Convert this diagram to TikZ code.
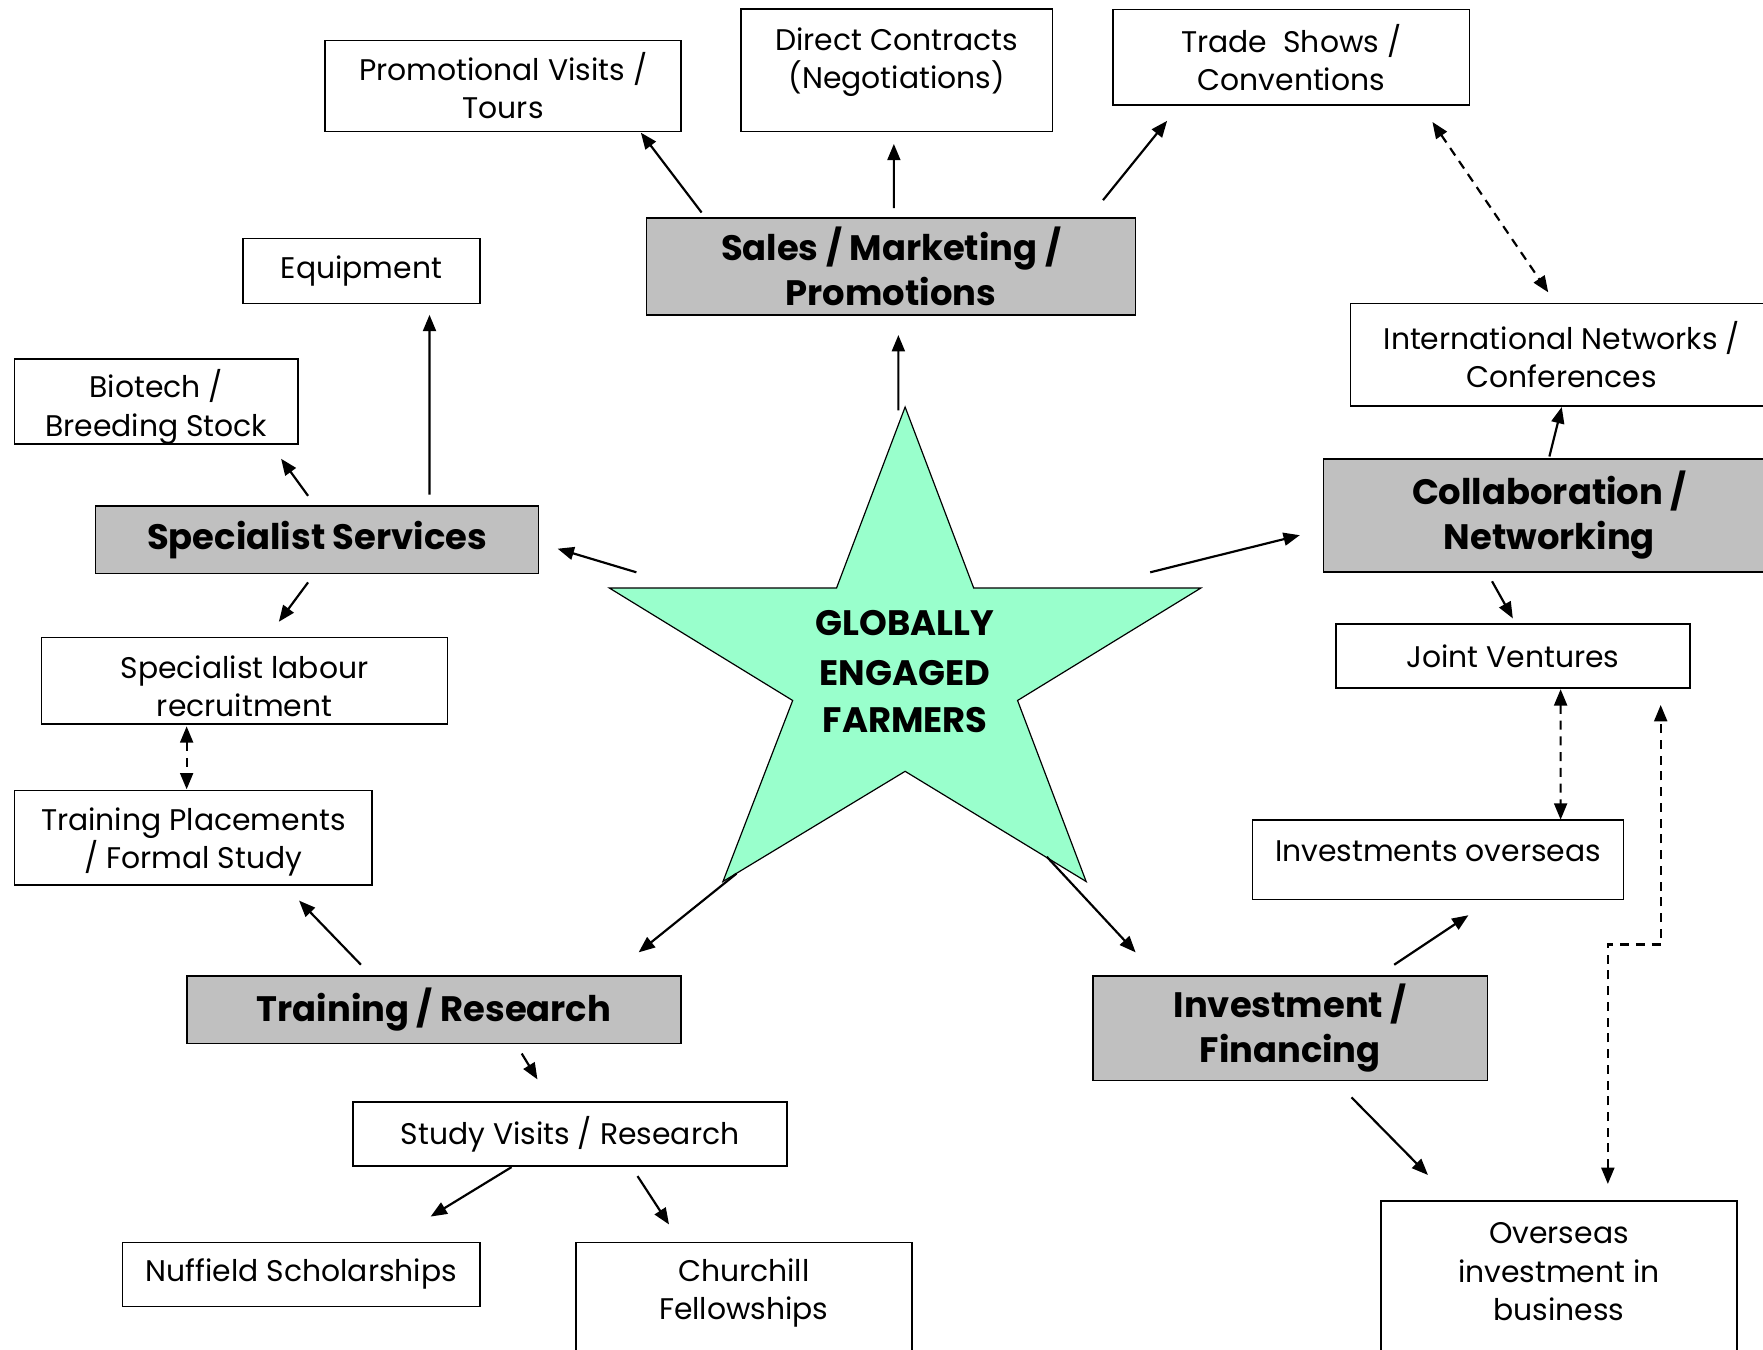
\documentclass[tikz,border=0pt]{standalone}
\usepackage{fontspec}
\setmainfont{Poppins}
\usetikzlibrary{arrows.meta}

\definecolor{headgrey}{RGB}{192,192,192}
\definecolor{starmint}{RGB}{153,255,204}

\newcommand{\boxfont}{\fontsize{15.1}{19.3}\selectfont}
\newcommand{\headfont}{\fontsize{17.9}{22.8}\selectfont\bfseries}

\tikzset{
  box/.style={draw, line width=0.85pt, fill=white, inner sep=0pt, outer sep=0pt, align=center, font=\boxfont},
  headbox/.style={box, fill=headgrey, font=\headfont},
  boxtext/.style={align=center, font=\boxfont, inner sep=0pt},
  arr/.style={line width=1.1pt, -{Triangle[length=2.9mm,width=2.3mm]}},
  dasharr/.style={line width=1.1pt, dash pattern=on 1.6mm off 1.2mm, {Triangle[length=2.9mm,width=2.3mm]}-{Triangle[length=2.9mm,width=2.3mm]}}
}

\begin{document}
\begin{tikzpicture}[x=0.02cm, y=-0.02cm]

% Fix the picture size and clip what runs over the edges
\useasboundingbox (0,0) rectangle (1568,1200);
\clip (0,0) rectangle (1568,1200);

% Define the points of the star
\coordinate (t) at (805,362);
\coordinate (ul) at (744,523);
\coordinate (l) at (542,523);
\coordinate (ll) at (705,623);
\coordinate (bl) at (643,784);
\coordinate (b) at (805,686);
\coordinate (br) at (966,784);
\coordinate (lr) at (905,623);
\coordinate (r) at (1068,523);
\coordinate (ur) at (866,523);

% Draw the star
\draw[fill=starmint, line width=0.6pt] (t) -- (ur) -- (r) -- (lr) -- (br) -- (b) -- (bl) -- (ll) -- (l) -- (ul) -- cycle;
\node[align=center, font=\headfont] (farmers) at (805,597) {GLOBALLY\\[2.5pt] ENGAGED\\[1pt] FARMERS};

% Sales / Marketing / Promotions and its boxes
\node[headbox, minimum width=8.70cm, minimum height=1.72cm] (sales) at (792.5,237) {Sales / Marketing /\\ Promotions};
\node[box, minimum width=6.34cm, minimum height=1.62cm] (promo) at (447.5,76.5) {Promotional Visits /\\ Tours};
\node[box, minimum width=5.54cm, minimum height=2.18cm] (direct) at (797.5,62.5) {};
\node[boxtext] (directtext) at (797.5,55) {Direct Contracts\\ (Negotiations)};
\node[box, minimum width=6.34cm, minimum height=1.70cm] (trade) at (1148.5,51) {Trade\ \ Shows /\\ Conventions};

% Specialist Services and its boxes
\node[headbox, minimum width=7.88cm, minimum height=1.20cm] (spec) at (282,480) {Specialist Services};
\node[box, minimum width=4.22cm, minimum height=1.16cm] (equip) at (321.5,241) {Equipment};
\node[box, minimum width=5.04cm, minimum height=1.52cm] (biotech) at (139,357) {};
\node[boxtext] (biotechtext) at (139,362) {Biotech /\\ Breeding Stock};
\node[box, minimum width=7.22cm, minimum height=1.54cm] (labour) at (217.5,605.5) {};
\node[boxtext] (labourtext) at (217.5,610) {Specialist labour\\ recruitment};
\node[box, minimum width=6.36cm, minimum height=1.68cm] (place) at (172,745) {};
\node[boxtext] (placetext) at (172,749) {Training Placements\\ / Formal Study};

% Collaboration / Networking and its boxes
\node[headbox, minimum width=8.04cm, minimum height=2.02cm] (collab) at (1378,458.5) {Collaboration /\\ Networking};
\node[box, minimum width=7.52cm, minimum height=1.82cm] (intl) at (1389,315.5) {International Networks /\\ Conferences};
\node[box, minimum width=6.30cm, minimum height=1.14cm] (joint) at (1345.5,583.5) {Joint Ventures};

% Investment / Financing and its boxes
\node[headbox, minimum width=7.02cm, minimum height=1.86cm] (invest) at (1147.5,914.5) {Investment /\\ Financing};
\node[box, minimum width=6.60cm, minimum height=1.42cm] (invo) at (1279,764.5) {};
\node[boxtext] (invotext) at (1279,757) {Investments overseas};
\node[box, minimum width=6.34cm, minimum height=3.04cm] (overseas) at (1386.5,1144) {};
\node[boxtext] (overseastext) at (1386.5,1131) {Overseas\\ investment in\\ business};

% Training / Research and its boxes
\node[headbox, minimum width=8.80cm, minimum height=1.20cm] (train) at (386,898) {Training / Research};
\node[box, minimum width=7.72cm, minimum height=1.14cm] (study) at (507,1008.5) {Study Visits / Research};
\node[box, minimum width=6.36cm, minimum height=1.14cm] (nuff) at (268,1133.5) {Nuffield Scholarships};
\node[box, minimum width=5.98cm, minimum height=2.30cm] (church) at (661.5,1162.5) {};
\node[boxtext] (churchtext) at (661.5,1150) {Churchill\\ Fellowships};

% Arrows from the star
\draw[arr] ([shift={(-6,3)}]t) -- ([shift={(6.5,18)}]sales.south);
\draw[arr] ([shift={(24,-14)}]l) -- ([shift={(17,8)}]spec.east);
\draw[arr] ([shift={(-45,-14)}]r) -- ([shift={(-21,17.5)}]collab.west);
\draw[arr] ([shift={(12,-7)}]bl) -- ([shift={(182,-21)}]train.north);
\draw[arr] ([shift={(-35,-22)}]br) -- ([shift={(-137.5,-21)}]invest.north);

% Arrows from Sales / Marketing / Promotions
\draw[arr] ([shift={(-168.5,-5)}]sales.north) -- ([shift={(122.5,1)}]promo.south);
\draw[arr] ([shift={(2.5,-9)}]sales.north) -- ([shift={(-2.5,11)}]direct.south);
\draw[arr] ([shift={(188.5,-16)}]sales.north) -- ([shift={(-110.5,14)}]trade.south);
\draw[dasharr] ([shift={(125.5,15)}]trade.south) -- ([shift={(-12,-10)}]intl.north);

% Arrows from Specialist Services
\draw[arr] ([shift={(100,-10)}]spec.north) -- ([shift={(60.5,10)}]equip.south);
\draw[arr] ([shift={(-8,-9)}]spec.north) -- ([shift={(111,13)}]biotech.south);
\draw[arr] ([shift={(-8,8)}]spec.south) -- ([shift={(30.5,-14)}]labour.north);
\draw[dasharr] ([shift={(-51.5,2)}]labour.south) -- ([shift={(-6,-1)}]place.north);

% Arrows from Collaboration / Networking
\draw[arr] ([shift={(0,-2)}]collab.north) -- ([shift={(0,1)}]intl.south);
\draw[arr] ([shift={(-51,8)}]collab.south) -- ([shift={(0,-5)}]joint.north);
\draw[dasharr] ([shift={(42.5,1)}]joint.south) -- ([shift={(109,0)}]invo.north);

% Arrows from Investment / Financing
\draw[arr] ([shift={(92.5,-10)}]invest.north) -- ([shift={(27,14)}]invo.south);
\draw[arr] ([shift={(54.5,15)}]invest.south) -- ([shift={(-116.5,-23)}]overseas.north);
\coordinate (jvend) at ([shift={(131.5,15)}]joint.south);
\coordinate (obend) at ([shift={(43.5,-15)}]overseas.north);
\coordinate (elbow) at (1453,840);
\draw[dasharr] (obend) -- (obend |- elbow) -- (jvend |- elbow) -- (jvend);

% Arrows from Training / Research
\draw[arr] ([shift={(-65,-10)}]train.north) -- ([shift={(94,14)}]place.south);
\draw[arr] ([shift={(78,9)}]train.south) -- ([shift={(-29,-20)}]study.north);
\draw[arr] ([shift={(-52,1)}]study.south) -- ([shift={(115,-23)}]nuff.north);
\draw[arr] ([shift={(60,9)}]study.south) -- ([shift={(-66.5,-16)}]church.north);

\end{tikzpicture}
\end{document}
